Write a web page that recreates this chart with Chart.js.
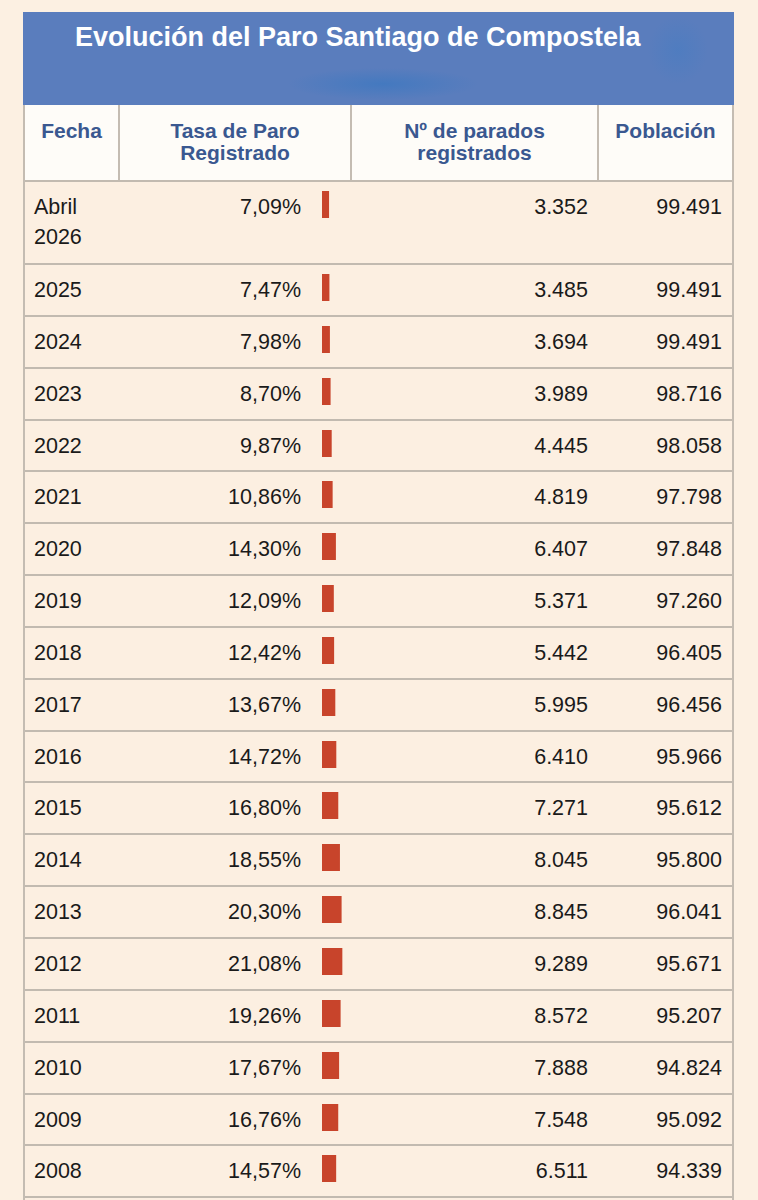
<!DOCTYPE html>
<html lang="es">
<head>
  <meta charset="UTF-8" />
  <title>Evolución del Paro Santiago de Compostela</title>
  <script src="https://cdn.jsdelivr.net/npm/chart.js"></script>
  <style>
    html, body {
      margin: 0;
      padding: 0;
      background: #fcf0e2;
      width: 758px;
      height: 1200px;
      overflow: hidden;
      font-family: 'Liberation Sans', Arial, sans-serif;
    }
    #sheet {
      position: absolute;
      left: 23px;
      top: 12px;
      width: 711px;
      height: 1250px;
      border-left: 2px solid #c4bcb2;
      border-right: 2px solid #c4bcb2;
      box-sizing: border-box;
      background: #fcefe1;
    }
    .title {
      position: absolute;
      left: -2px;
      right: -2px;
      top: 0;
      height: 93px;
      background:
        radial-gradient(ellipse 95px 16px at 360px 72px, rgba(62,120,192,0.8), rgba(62,120,192,0)),
        radial-gradient(ellipse 30px 34px at 655px 38px, rgba(70,124,194,0.55), rgba(70,124,194,0)),
        #5a7dbd;
      color: #fff;
      font-weight: bold;
      font-size: 27px;
    }
    .title span {
      position: absolute;
      left: 52px;
      top: 9px;
      line-height: 32px;
      white-space: nowrap;
    }
    .head {
      position: absolute;
      left: 0;
      right: 0;
      top: 93px;
      height: 75px;
      background: #fefcf8;
      display: grid;
      grid-template-columns: 93px 232px 247px 135px;
    }
    .head div {
      color: #3a5890;
      font-weight: bold;
      font-size: 21px;
      line-height: 22px;
      text-align: center;
      padding-top: 15px;
      border-left: 2px solid #c4bcb2;
    }
    .head div:first-child { border-left: none; }
    #rows {
      position: absolute;
      left: 0;
      right: 0;
      top: 168px;
    }
    .row {
      position: relative;
      border-top: 2px solid #c2bab0;
      box-sizing: border-box;
      color: #1a1a1a;
      font-size: 21.5px;
      line-height: 30px;
    }
    .row span {
      position: absolute;
      top: 10px;
      white-space: pre;
    }
    .fecha { left: 9px; }
    .tasa { right: 431px; }
    .parados { right: 144px; }
    .pobl { right: 10px; }
    .bar {
      position: absolute;
      left: 297px;
      top: 9px;
      width: 30px;
      height: 27px;
    }
  </style>
</head>
<body>
<div id="sheet">
  <div class="title"><span>Evolución del Paro Santiago de Compostela</span></div>
  <div class="head">
    <div>Fecha</div>
    <div>Tasa de Paro<br>Registrado</div>
    <div>Nº de parados<br>registrados</div>
    <div>Población</div>
  </div>
  <div id="rows"></div>
</div>
<script>
  const fechas = ['Abril\n2026', '2025', '2024', '2023', '2022', '2021', '2020', '2019', '2018', '2017',
                  '2016', '2015', '2014', '2013', '2012', '2011', '2010', '2009', '2008'];
  const tasas = [7.09, 7.47, 7.98, 8.70, 9.87, 10.86, 14.30, 12.09, 12.42, 13.67,
                 14.72, 16.80, 18.55, 20.30, 21.08, 19.26, 17.67, 16.76, 14.57];
  const parados = [3352, 3485, 3694, 3989, 4445, 4819, 6407, 5371, 5442, 5995,
                   6410, 7271, 8045, 8845, 9289, 8572, 7888, 7548, 6511];
  const poblacion = [99491, 99491, 99491, 98716, 98058, 97798, 97848, 97260, 96405, 96456,
                     95966, 95612, 95800, 96041, 95671, 95207, 94824, 95092, 94339];

  const barMax = 31.6; // x scale max for the little bars (about 0.95px per point)
  const barColor = '#c8442b';

  function miles(n) {
    return String(n).replace(/\B(?=(\d{3})+(?!\d))/g, '.');
  }

  const rowsEl = document.getElementById('rows');
  fechas.forEach(function (f, i) {
    const row = document.createElement('div');
    row.className = 'row';
    row.style.height = (i === 0 ? 83 : 51.85) + 'px';
    row.innerHTML =
      '<span class="fecha">' + f + '</span>' +
      '<span class="tasa">' + tasas[i].toFixed(2).replace('.', ',') + '%</span>' +
      '<span class="parados">' + miles(parados[i]) + '</span>' +
      '<span class="pobl">' + miles(poblacion[i]) + '</span>' +
      '<div class="bar"><canvas></canvas></div>';
    rowsEl.appendChild(row);

    new Chart(row.querySelector('canvas'), {
      type: 'bar',
      data: {
        labels: [f],
        datasets: [{
          data: [tasas[i]],
          backgroundColor: barColor,
          borderWidth: 0,
          barPercentage: 1,
          categoryPercentage: 1
        }]
      },
      options: {
        indexAxis: 'y',
        responsive: true,
        maintainAspectRatio: false,
        animation: false,
        layout: { padding: 0 },
        scales: {
          x: { display: false, min: 0, max: barMax },
          y: { display: false }
        },
        plugins: {
          legend: { display: false },
          tooltip: { enabled: false }
        }
      }
    });
  });

  // next row, cut off at the bottom of the picture
  const tail = document.createElement('div');
  tail.className = 'row';
  tail.style.height = '60px';
  rowsEl.appendChild(tail);
</script>
</body>
</html>
